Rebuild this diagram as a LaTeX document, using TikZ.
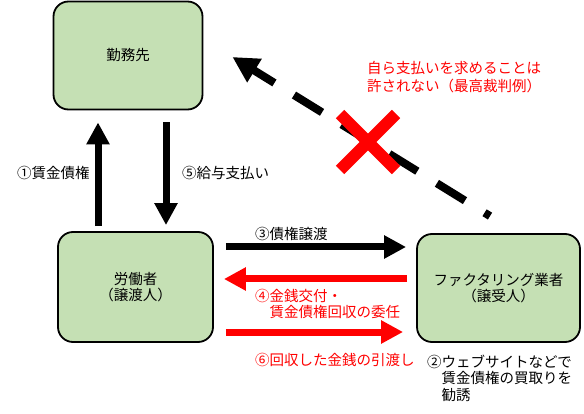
\documentclass[tikz,border=0pt]{standalone}
\usepackage{fontspec}
\setmainfont{Noto Sans CJK JP}
\usetikzlibrary{arrows.meta,calc}
\definecolor{boxgreen}{HTML}{C5E0B4}
\definecolor{xred}{HTML}{FF0000}
\begin{document}
\begin{tikzpicture}[x=1pt,y=-1pt,
  font=\fontsize{14.5}{16.5}\selectfont,
  party/.style={draw=black, line width=1.8pt, fill=boxgreen, rounded corners=15pt,
    align=center, inner sep=0pt},
  blk/.style={line width=7pt, -{Triangle[length=22pt,width=22pt]}},
  redarr/.style={blk, color=xred},
  lbl/.style={inner sep=0pt, anchor=west, align=left},
  redlbl/.style={lbl, text=xred}]
\useasboundingbox (0,0) rectangle (584,414);

\node[party, minimum width=149pt, minimum height=108pt] (emp) at (128,55.5) {勤務先};
\node[party, minimum width=155pt, minimum height=110pt] (worker) at (135.5,287) {労働者\\（譲渡人）};
\node[party, minimum width=163pt, minimum height=108pt] (factor) at (498.5,288) {ファクタリング業者\\（譲受人）};

% vertical arrows
\draw[blk, shorten <=5pt, shorten >=12pt] ([xshift=-37.5pt]worker.north) -- ([xshift=-30pt]emp.south);
\draw[blk, shorten <=12pt, shorten >=6pt] ([xshift=38pt]emp.south) -- ([xshift=30.5pt]worker.north);

% horizontal arrows
\draw[blk, shorten <=12pt, shorten >=10pt] ([yshift=40pt]worker.east) -- ([yshift=41pt]factor.west);
\draw[redarr, shorten <=9pt, shorten >=10pt] ([yshift=9pt]factor.west) -- ([yshift=8pt]worker.east);
\draw[redarr, shorten <=12pt, shorten >=13pt] ([yshift=-45pt]worker.east) -- ([yshift=-44pt]factor.west);

% dashed diagonal arrow
\draw[line width=8pt, dash pattern=on 33pt off 23pt, dash phase=8pt,
  {Triangle[length=26pt,width=26pt]}-]
  ([xshift=29pt,yshift=-1.5pt]emp.east) -- ([xshift=-8.5pt,yshift=17pt]factor.north);

% red cross
\draw[xred, line width=12pt] (340,114) -- (396,170);
\draw[xred, line width=12pt] (396,114) -- (340,170);

% labels
\node[lbl] (l1) at (17,173) {①賃金債権};
\node[lbl] (l5) at (182,173) {⑤給与支払い};
\node[lbl] (l3) at (255,234) {③債権譲渡};
\node[redlbl] (l4) at (255,304) {④金銭交付・\\\hspace*{1em}賃金債権回収の委任};
\node[redlbl] (l6) at (255,360) {⑥回収した金銭の引渡し};
\node[lbl] (l2) at (427,378) {②ウェブサイトなどで\\\hspace*{1em}賃金債権の買取りを\\\hspace*{1em}勧誘};
\node[redlbl, font=\fontsize{14.5}{18}\selectfont] (lx) at (367,77) {自ら支払いを求めることは\\許されない（最高裁判例）};
\end{tikzpicture}
\end{document}
